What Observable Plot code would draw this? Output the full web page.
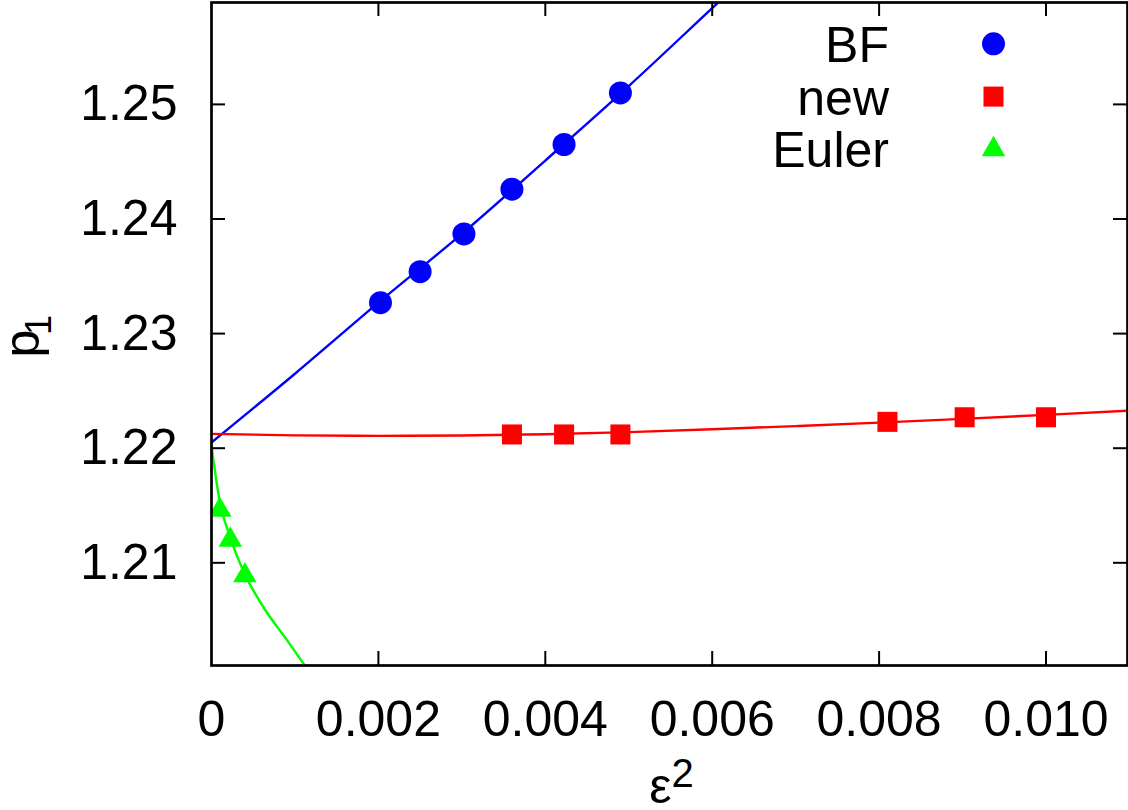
<!DOCTYPE html>
<html>
<head>
<meta charset="utf-8">
<script src="https://cdn.jsdelivr.net/npm/d3@7"></script>
<script src="https://cdn.jsdelivr.net/npm/@observablehq/plot@0.6"></script>
<style>
  html, body { margin: 0; padding: 0; background: #ffffff; }
</style>
</head>
<body>
<div id="chart"></div>
<script>
// ---- data ----
const bfX = [0.002025, 0.0025, 0.003025, 0.0036, 0.004225, 0.0049];
const bfY = [1.2327, 1.2354, 1.2387, 1.2426, 1.2465, 1.2510];

const newX = [0.0036, 0.004225, 0.0049, 0.0081, 0.009025, 0.0100];
const newY = [1.2212, 1.2212, 1.2212, 1.2223, 1.2227, 1.2227];

const eulerX = [0.0001, 0.000225, 0.0004];
const eulerY = [1.2146, 1.2120, 1.2089];

// fitted curves
const bfFitX = [0, 0.001, 0.002, 0.003, 0.004, 0.005, 0.006, 0.0065];
const bfFitY = [1.2205, 1.2265, 1.2327, 1.2387, 1.2451, 1.2516, 1.2584, 1.2618];

const newFitX = [0, 0.001, 0.002, 0.003, 0.004, 0.005, 0.006, 0.007, 0.008, 0.009, 0.010, 0.011];
const newFitY = [1.22125, 1.22112, 1.22108, 1.22111, 1.22122, 1.22140, 1.22165, 1.22193, 1.22223, 1.22256, 1.22291, 1.22328];

const eulerFitX = [0, 0.0001, 0.000225, 0.0004, 0.000625, 0.0009, 0.0012];
const eulerFitY = [1.2202, 1.2153, 1.2122, 1.2090, 1.2061, 1.2033, 1.2002];

const xTicks = [0, 0.002, 0.004, 0.006, 0.008, 0.010];
const xTickLabels = ["0", "0.002", "0.004", "0.006", "0.008", "0.010"];
const yTicks = [1.21, 1.22, 1.23, 1.24, 1.25];
const yTickLabels = ["1.21", "1.22", "1.23", "1.24", "1.25"];

const seriesNames = ["BF", "new", "Euler"];
const seriesColors = ["#0000ff", "#ff0000", "#00ff00"];
const seriesSymbols = ["circle", "square", "triangle"];
const seriesR = [11.5, 11.3, 8.7];

// ---- layout ----
const W = 1128, H = 810;
const mL = 211, mR = 1, mT = 2, mB = 145;
const plotH = H - mT - mB;
const plotW = W - mL - mR;
const tickLen = 14;
const font = "'Liberation Sans', Arial, Helvetica, sans-serif";

const pts = (xs, ys) => xs.map((x, i) => ({x, y: ys[i]}));

const marks = [];

// fitted lines
const fits = [pts(bfFitX, bfFitY), pts(newFitX, newFitY), pts(eulerFitX, eulerFitY)];
fits.forEach((d, i) => {
  marks.push(Plot.line(d, {x: "x", y: "y", stroke: seriesColors[i], strokeWidth: 2.4, curve: "monotone-x", clip: true}));
});

// data points
const dataSets = [pts(bfX, bfY), pts(newX, newY), pts(eulerX, eulerY)];
dataSets.forEach((d, i) => {
  marks.push(Plot.dot(d, {x: "x", y: "y", fill: seriesColors[i], symbol: seriesSymbols[i], r: seriesR[i], clip: true}));
});

// inward ticks (all four sides)
const xt = xTicks.filter(t => t > 0);
marks.push(Plot.tickX(xt, {x: d => d, insetTop: plotH - tickLen, stroke: "black", strokeWidth: 2}));
marks.push(Plot.tickX(xt, {x: d => d, insetBottom: plotH - tickLen, stroke: "black", strokeWidth: 2}));
marks.push(Plot.tickY(yTicks, {y: d => d, insetRight: plotW - tickLen, stroke: "black", strokeWidth: 2}));
marks.push(Plot.tickY(yTicks, {y: d => d, insetLeft: plotW - tickLen, stroke: "black", strokeWidth: 2}));

// tick labels
marks.push(Plot.axisX({ticks: xTicks, tickSize: 0, tickPadding: 35, fontSize: 50, label: null,
  tickFormat: d => xTickLabels[xTicks.findIndex(t => Math.abs(t - d) < 1e-9)]}));
marks.push(Plot.axisY({ticks: yTicks, tickSize: 0, tickPadding: 34, fontSize: 50, label: null,
  tickFormat: d => yTickLabels[yTicks.findIndex(t => Math.abs(t - d) < 1e-9)]}));

// frame
marks.push(Plot.frame({stroke: "black", strokeWidth: 2.7}));

// axis titles
marks.push(Plot.text(["ε"], {frameAnchor: "bottom", text: d => d, textAnchor: "end", lineAnchor: "bottom", dx: 2, dy: 137, fontSize: 50, fill: "black"}));
marks.push(Plot.text(["2"], {frameAnchor: "bottom", text: d => d, textAnchor: "start", lineAnchor: "bottom", dx: 2, dy: 121, fontSize: 40, fill: "black"}));
marks.push(Plot.text(["p"], {frameAnchor: "left", text: d => d, rotate: -90, textAnchor: "start", lineAnchor: "bottom", dx: -173, dy: 23.5, fontSize: 50, fill: "black"}));
marks.push(Plot.text(["1"], {frameAnchor: "left", text: d => d, rotate: -90, textAnchor: "start", lineAnchor: "bottom", dx: -161, dy: 1, fontSize: 36, fill: "black"}));

// legend
seriesNames.forEach((name, i) => {
  marks.push(Plot.text([name], {frameAnchor: "top-right", text: d => d, textAnchor: "end", lineAnchor: "bottom",
    dx: -238.5, dy: 59.7 + i * 52.5, fontSize: 50, fill: "black"}));
  marks.push(Plot.dot([name], {frameAnchor: "top-right", dx: -134, dy: 41.3 + i * 52.8,
    r: seriesR[i], symbol: seriesSymbols[i], fill: seriesColors[i]}));
});

const chart = Plot.plot({
  width: W,
  height: H,
  marginLeft: mL,
  marginRight: mR,
  marginTop: mT,
  marginBottom: mB,
  style: {fontFamily: font, fontSize: "50px", background: "#ffffff", color: "black", overflow: "visible"},
  x: {domain: [0, plotW / 83450]},
  y: {domain: [1.20104, 1.25889]},
  marks
});
document.getElementById("chart").appendChild(chart);
</script>
</body>
</html>
